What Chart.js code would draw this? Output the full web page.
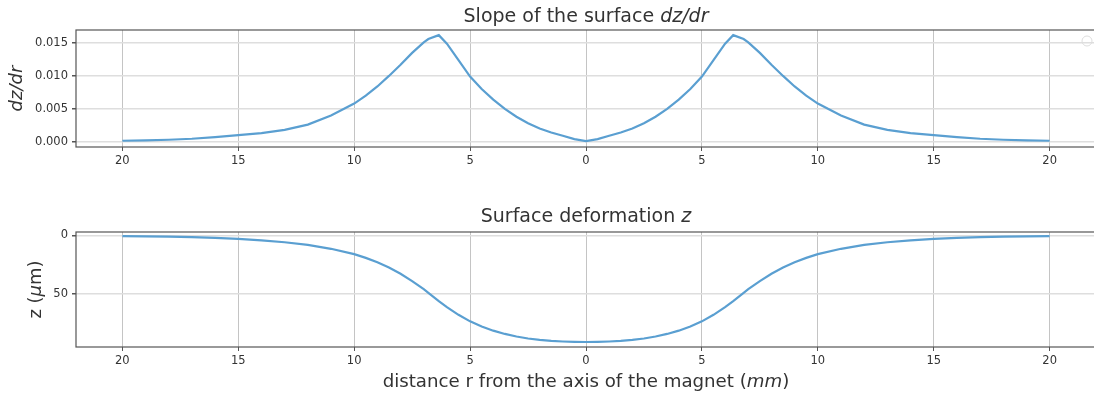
<!DOCTYPE html>
<html>
<head>
<meta charset="utf-8">
<script src="https://cdn.jsdelivr.net/npm/chart.js@4/dist/chart.umd.min.js"></script>
<style>
  html, body { margin: 0; padding: 0; background: #fff; overflow: hidden; }
  #wrap { position: relative; width: 1100px; height: 401px; }
  #wrap canvas { position: absolute; left: 0; }
</style>
</head>
<body>
<div id="wrap">
  <canvas id="slope" width="1100" height="200" style="top:0"></canvas>
  <canvas id="depth" width="1100" height="201" style="top:200px"></canvas>
</div>
<script>
// distance r from the axis (mm)
const rValues = [-20, -19, -18, -17, -16, -15, -14, -13, -12, -11, -10, -9.5, -9, -8.5, -8, -7.5, -7, -6.8, -6.35, -6,
    -5.5, -5, -4.5, -4, -3.5, -3, -2.5, -2, -1.5, -1, -0.5, 0, 0.5, 1, 1.5, 2, 2.5, 3, 3.5, 4, 4.5, 5, 5.5, 6, 6.35,
    6.8, 7, 7.5, 8, 8.5, 9, 9.5, 10, 11, 12, 13, 14, 15, 16, 17, 18, 19, 20];

// slope dz/dr
const slopeValues = [0.00015, 0.0002, 0.0003, 0.00045, 0.0007, 0.001, 0.0013, 0.0018, 0.0026, 0.0040, 0.0058, 0.0070,
    0.0084, 0.0100, 0.0117, 0.0135, 0.0151, 0.0156, 0.0162, 0.0149, 0.0124, 0.0099, 0.0080, 0.0064, 0.0050, 0.0038,
    0.0028, 0.0020, 0.0014, 0.0009, 0.0004, 0.0001, 0.0004, 0.0009, 0.0014, 0.0020, 0.0028, 0.0038, 0.0050, 0.0064,
    0.0080, 0.0099, 0.0124, 0.0149, 0.0162, 0.0156, 0.0151, 0.0135, 0.0117, 0.0100, 0.0084, 0.0070, 0.0058, 0.0040,
    0.0026, 0.0018, 0.0013, 0.001, 0.0007, 0.00045, 0.0003, 0.0002, 0.00015];

// surface deformation z (um)
const depthValues = [0.7, 0.9, 1.2, 1.6, 2.2, 3.1, 4.3, 6.0, 8.3, 11.6, 16.2, 19.4, 23.2, 27.7, 33.0, 39.3, 46.2, 49.3,
    56.4, 61.6, 68.2, 73.8, 78.2, 81.8, 84.6, 86.8, 88.5, 89.7, 90.6, 91.1, 91.4, 91.5, 91.4, 91.1, 90.6, 89.7, 88.5,
    86.8, 84.6, 81.8, 78.2, 73.8, 68.2, 61.6, 56.4, 49.3, 46.2, 39.3, 33.0, 27.7, 23.2, 19.4, 16.2, 11.6, 8.3, 6.0,
    4.3, 3.1, 2.2, 1.6, 1.2, 0.9, 0.7];

const xTicks = [-20, -15, -10, -5, 0, 5, 10, 15, 20];
const slopeTicks = [0, 0.005, 0.010, 0.015];
const depthTicks = [0, 50];

const FONT = '"DejaVu Sans", sans-serif';
const TEXT = '#333';
const LINE = '#5a9fd1';

// draws a line of text made of plain / italic pieces, centred on x,y
function drawRuns(ctx, runs, x, y, size, angle) {
    ctx.save();
    ctx.translate(x, y);
    if (angle) ctx.rotate(angle);
    ctx.fillStyle = TEXT;
    ctx.textBaseline = 'middle';
    ctx.textAlign = 'left';
    let total = 0;
    const widths = runs.map((run) => {
        ctx.font = (run[1] ? 'italic ' : '') + size + 'px ' + FONT;
        const w = ctx.measureText(run[0]).width;
        total += w;
        return w;
    });
    let cx = -total / 2;
    runs.forEach((run, i) => {
        ctx.font = (run[1] ? 'italic ' : '') + size + 'px ' + FONT;
        ctx.fillText(run[0], cx, 0);
        cx += widths[i];
    });
    ctx.restore();
}

const decor = {
    id: 'decor',
    afterDraw(chart, args, opts) {
        const ctx = chart.ctx;
        const a = chart.chartArea;
        //frame round the axes
        ctx.save();
        ctx.strokeStyle = '#555';
        ctx.lineWidth = 1.2;
        ctx.strokeRect(a.left, a.top, a.right - a.left, a.bottom - a.top);
        ctx.restore();

        const cx = (a.left + a.right) / 2;
        drawRuns(ctx, opts.title, cx, opts.titleY, 19);
        drawRuns(ctx, opts.ylabel, opts.ylabelX, (a.top + a.bottom) / 2, 18, -Math.PI / 2);
        if (opts.xlabel) drawRuns(ctx, opts.xlabel, cx, opts.xlabelY, 18.2);

        if (opts.legend) {
            ctx.save();
            ctx.strokeStyle = '#ddd';
            ctx.lineWidth = 1;
            ctx.beginPath();
            ctx.arc(1087, 41, 5, 0, Math.PI * 2);
            ctx.stroke();
            ctx.restore();
        }
    }
};

function points(ys) {
    return rValues.map((r, i) => ({x: r, y: ys[i]}));
}

function makeChart(id, ys, yOpts, decorOpts, padTop, xHeight) {
    const tickFont = {family: FONT, size: 11.5};
    return new Chart(document.getElementById(id), {
        type: 'line',
        data: {
            datasets: [{
                data: points(ys),
                borderColor: LINE,
                borderWidth: 2.2,
                pointRadius: 0,
                tension: 0,
                fill: false,
            }]
        },
        options: {
            responsive: false,
            animation: false,
            layout: {padding: {top: padTop, right: 4, left: 0, bottom: 0}},
            plugins: {
                legend: {display: false},
                tooltip: {enabled: false},
                decor: decorOpts,
            },
            scales: {
                x: {
                    type: 'linear',
                    min: -22,
                    max: 22,
                    afterBuildTicks: (s) => { s.ticks = xTicks.map((v) => ({value: v})); },
                    afterFit: (s) => { s.height = xHeight; },
                    ticks: {
                        font: tickFont,
                        color: TEXT,
                        padding: 3,
                        maxRotation: 0,
                        callback: (v) => Math.abs(v),
                    },
                    grid: {color: '#c4c4c4', lineWidth: 1, tickLength: 4, tickColor: '#555'},
                    border: {display: false},
                },
                y: Object.assign({
                    afterFit: (s) => { s.width = 76; },
                    ticks: {font: tickFont, color: TEXT, padding: 4},
                    grid: {color: '#dedede', lineWidth: 1.5, tickLength: 4, tickColor: '#555'},
                    border: {display: false},
                }, yOpts),
            }
        },
        plugins: [decor],
    });
}

makeChart('slope', slopeValues, {
    min: -0.0008,
    max: 0.01698,
    afterBuildTicks: (s) => { s.ticks = slopeTicks.map((v) => ({value: v})); },
    ticks: {font: {family: FONT, size: 11.5}, color: TEXT, padding: 4, callback: (v) => v.toFixed(3)},
}, {
    title: [['Slope of the surface ', false], ['dz/dr', true]],
    titleY: 17,
    ylabel: [['dz/dr', true]],
    ylabelX: 17,
    legend: true,
}, 30, 53);

makeChart('depth', depthValues, {
    min: -2.8,
    max: 95.8,
    reverse: true,
    afterBuildTicks: (s) => { s.ticks = depthTicks.map((v) => ({value: v})); },
    ticks: {font: {family: FONT, size: 11.5}, color: TEXT, padding: 4, callback: (v) => String(v)},
}, {
    title: [['Surface deformation ', false], ['z', true]],
    titleY: 17,
    ylabel: [['z (', false], ['\u03bc', true], ['m)', false]],
    ylabelX: 36,
    xlabel: [['distance r from the axis of the magnet (', false], ['mm', true], [')', false]],
    xlabelY: 182,
}, 32, 54);
</script>
</body>
</html>
